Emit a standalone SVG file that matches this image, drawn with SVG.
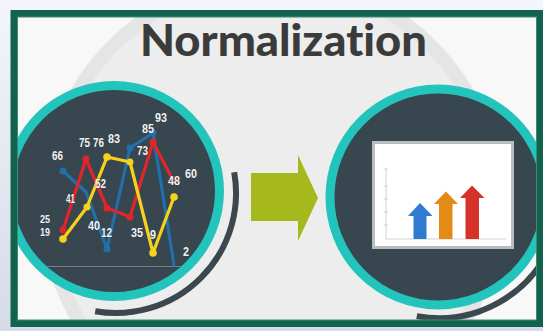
<svg xmlns="http://www.w3.org/2000/svg" width="543" height="331" viewBox="0 0 543 331">
<defs>
<style>
.lbl{font-family:"Liberation Sans",Arial,sans-serif;font-weight:bold;font-size:13.5px;fill:#f2f2f2;stroke:#2a343b;stroke-width:0.4px;paint-order:stroke}
.sm{font-size:11px}
.ln{fill:none;stroke-width:3.2;stroke-linejoin:round;stroke-linecap:round}
.teal{stroke:#22c4bb;stroke-width:9}
.dk{fill:#37464f}
.shade{fill:none;stroke:#3b4850;stroke-width:6}
.tick{stroke:#d3d3d3;stroke-width:1}
</style>
<clipPath id="inner"><rect x="17.5" y="17" width="519" height="303"/></clipPath>
<clipPath id="leftc"><circle cx="114" cy="191" r="101"/></clipPath>
<linearGradient id="outer" x1="0" y1="0" x2="0" y2="1">
<stop offset="0" stop-color="#f3f5fa"/><stop offset="1" stop-color="#d5dbe8"/>
</linearGradient>
</defs>
<rect x="0" y="0" width="543" height="331" fill="url(#outer)"/>
<g clip-path="url(#inner)">
<rect x="17" y="17" width="520" height="304" fill="#f8f8f8"/>
<circle cx="272" cy="205" r="232" fill="#e4e5e5"/>
<circle cx="272" cy="205" r="218" fill="#ededed"/>
<g id="left-node">
<path class="shade" d="M234.2,172.2 A120,120 0 0 1 95.2,311.2"/>
<circle class="dk teal" cx="114" cy="191" r="105.5"/>
<line x1="22" y1="266.5" x2="200" y2="266.5" stroke="#75818a" stroke-width="1.2" clip-path="url(#leftc)"/>
<g id="series-blue">
<polyline class="ln" stroke="#2270aa" points="63,171 86,192 107,249 130,148 153,133 174,265"/>
<g fill="#2270aa"><circle cx="63" cy="171" r="3.5"/><circle cx="107" cy="249" r="3.5"/><circle cx="130" cy="148" r="3.5"/><circle cx="153" cy="133" r="3.5"/></g>
</g>
<g id="series-red">
<polyline class="ln" stroke="#e0252b" points="63,230 86,159 107,208 130,217 153,142 174,182"/>
<g fill="#e0252b"><circle cx="63" cy="230" r="3.5"/><circle cx="86" cy="159" r="3.5"/><circle cx="107" cy="208" r="3.5"/><circle cx="130" cy="217" r="3.5"/><circle cx="153" cy="142" r="3.5"/></g>
</g>
<g id="series-yellow">
<polyline class="ln" stroke="#f6d21c" points="63,239 87,207 107,157 130,162 153,253 174,197"/>
<g fill="#f6d21c"><circle cx="63" cy="239" r="3.8"/><circle cx="87" cy="207" r="3.5"/><circle cx="107" cy="157" r="3.8"/><circle cx="130" cy="162" r="3.5"/><circle cx="153" cy="253" r="3.8"/><circle cx="174" cy="197" r="3.8"/></g>
</g>
<g id="labels">
<text class="lbl" x="52" y="160" textLength="11" lengthAdjust="spacingAndGlyphs">66</text>
<text class="lbl" x="79" y="147" textLength="11" lengthAdjust="spacingAndGlyphs">75</text>
<text class="lbl" x="93" y="147" textLength="11" lengthAdjust="spacingAndGlyphs">76</text>
<text class="lbl" x="108" y="143" textLength="12" lengthAdjust="spacingAndGlyphs">83</text>
<text class="lbl" x="142" y="133" textLength="12" lengthAdjust="spacingAndGlyphs">85</text>
<text class="lbl" x="155" y="122" textLength="12" lengthAdjust="spacingAndGlyphs">93</text>
<text class="lbl" x="137" y="155" textLength="11" lengthAdjust="spacingAndGlyphs">73</text>
<text class="lbl" x="95" y="188" textLength="11" lengthAdjust="spacingAndGlyphs">52</text>
<text class="lbl" x="66" y="203" textLength="9" lengthAdjust="spacingAndGlyphs">41</text>
<text class="lbl sm" x="40" y="223" textLength="10" lengthAdjust="spacingAndGlyphs">25</text>
<text class="lbl sm" x="40" y="236" textLength="10" lengthAdjust="spacingAndGlyphs">19</text>
<text class="lbl" x="88" y="230" textLength="12" lengthAdjust="spacingAndGlyphs">40</text>
<text class="lbl" x="101" y="237" textLength="11" lengthAdjust="spacingAndGlyphs">12</text>
<text class="lbl" x="131" y="237" textLength="12" lengthAdjust="spacingAndGlyphs">35</text>
<text class="lbl" x="150" y="239" textLength="6" lengthAdjust="spacingAndGlyphs">9</text>
<text class="lbl" x="168" y="185" textLength="12" lengthAdjust="spacingAndGlyphs">48</text>
<text class="lbl" x="185" y="178" textLength="12" lengthAdjust="spacingAndGlyphs">60</text>
<text class="lbl" x="183" y="256" textLength="6" lengthAdjust="spacingAndGlyphs">2</text>
</g>
</g>
<g id="right-node">
<path class="shade" d="M416.8,316.1 A122,122 0 0 0 553,240"/>
<circle class="dk teal" cx="438" cy="197" r="108"/>
<rect x="373.5" y="142.5" width="139" height="105" fill="#ffffff" stroke="#b9bdc0" stroke-width="3"/>
<g class="tick">
<line x1="386" y1="169" x2="386" y2="239"/>
<line x1="386" y1="239" x2="506" y2="239"/>
<line x1="384" y1="169" x2="388" y2="169"/>
<line x1="384" y1="186" x2="388" y2="186"/>
<line x1="384" y1="199" x2="388" y2="199"/>
<line x1="384" y1="212" x2="388" y2="212"/>
<line x1="384" y1="225" x2="388" y2="225"/>
</g>
<polygon fill="#2f7bd2" points="413.5,239 426.5,239 426.5,216 432.5,216 420,203 408,216 413.5,216"/>
<polygon fill="#e48b17" points="439,239 452.5,239 452.5,204 458,204 446,191.5 434,204 439,204"/>
<polygon fill="#d5322a" points="465.5,239 479,239 479,198 484.5,198 472,185.5 460,198 465.5,198"/>
</g>
</g>
<rect x="14" y="13.5" width="526" height="310" fill="none" stroke="#12634d" stroke-width="7"/>
<rect x="17.5" y="17" width="519" height="303" fill="none" stroke="#3e8c74" stroke-width="1"/>
<g id="title">
<text x="140" y="56" font-family="Lato, 'Open Sans', sans-serif" font-weight="900" font-size="43" fill="#3b3b3b" textLength="287" lengthAdjust="spacingAndGlyphs" style="font-variant-ligatures:none">Normalization</text>
</g>
<g id="connectors">
<polygon fill="#a5b91d" points="251,173 298,173 298,155 318,198 298,241 298,221 251,221"/>
</g>
</svg>
